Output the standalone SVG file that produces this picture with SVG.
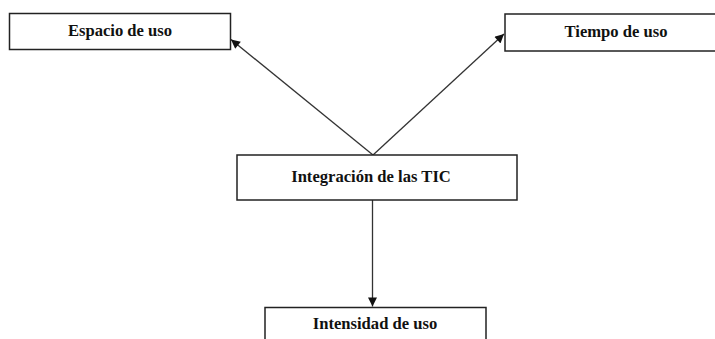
<svg xmlns="http://www.w3.org/2000/svg" width="715" height="339" viewBox="0 0 715 339">
<style>
.box{fill:#fff;stroke:#222;stroke-width:1.5}
.lbl{font-family:"Liberation Serif","Times New Roman",serif;font-weight:bold;font-size:16.6px;fill:#111;text-anchor:middle}
.con{stroke:#333;stroke-width:1.3;fill:none;marker-end:url(#ah)}
</style>
<defs>
<marker id="ah" viewBox="0 0 10 10" refX="10" refY="5" markerWidth="10" markerHeight="9" markerUnits="userSpaceOnUse" orient="auto">
<path d="M0,0 L10,5 L0,10 z" fill="#111"/>
</marker>
</defs>
<rect width="715" height="339" fill="#fff"/>
<g id="connectors">
<line class="con" x1="373" y1="155" x2="231" y2="39.5"/>
<line class="con" x1="373" y1="155" x2="504" y2="34"/>
<line class="con" x1="372.5" y1="200" x2="372.5" y2="306.5"/>
</g>
<g id="espacio">
<rect class="box" x="9.5" y="13.5" width="221" height="36"/>
<text class="lbl" x="120" y="36">Espacio de uso</text>
</g>
<g id="tiempo">
<rect class="box" x="505" y="14" width="222" height="37"/>
<text class="lbl" x="616" y="36.5">Tiempo de uso</text>
</g>
<g id="integracion">
<rect class="box" x="237" y="155" width="280" height="45"/>
<text class="lbl" x="371" y="182">Integración de las TIC</text>
</g>
<g id="intensidad">
<rect class="box" x="265" y="307.5" width="221" height="40"/>
<text class="lbl" x="375" y="328.5">Intensidad de uso</text>
</g>
</svg>
